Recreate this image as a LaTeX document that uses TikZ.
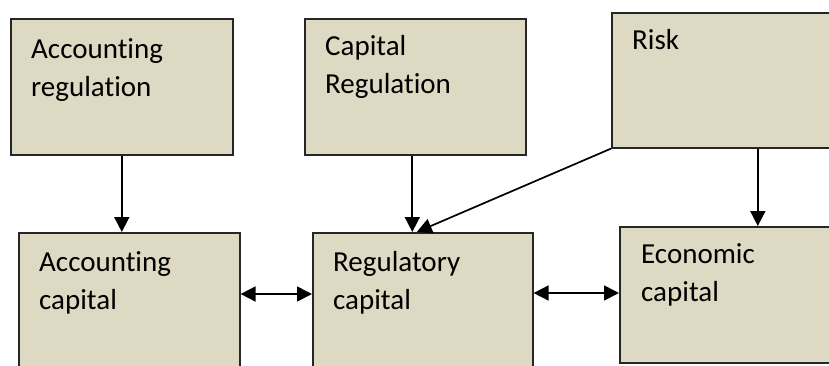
\documentclass[tikz,border=0pt]{standalone}
\usepackage{fontspec}
\setmainfont{Carlito}[Ligatures=NoCommon]
\usetikzlibrary{arrows.meta}
\definecolor{boxfill}{RGB}{221,217,195}
\begin{document}
\begin{tikzpicture}[
    x=1pt, y=-1pt,
    >={Triangle[length=15pt,width=15pt]},
    % Styles
    cap_box/.style={rectangle, draw=black!85, line width=1.6pt, fill=boxfill, anchor=north west, inner sep=0pt},
    box_text/.style={anchor=north west, inner sep=0pt, align=left, font=\fontsize{29}{38}\selectfont},
    link/.style={->, line width=1.7pt, black},
    both_link/.style={<->, line width=1.7pt, black}
]
    \useasboundingbox (0,0) rectangle (829,365);
    \clip (0,0) rectangle (829,365);

    % ==========================================
    % 1. TOP ROW: DRIVERS
    % ==========================================
    \node[cap_box, minimum width=222pt, minimum height=136pt] (acc_reg) at (10,18) {};
    \node[cap_box, minimum width=221pt, minimum height=136pt] (cap_reg) at (304,18) {};
    \node[cap_box, minimum width=292pt, minimum height=135pt] (risk) at (611,12) {};

    % ==========================================
    % 2. BOTTOM ROW: CAPITAL MEASURES
    % ==========================================
    \node[cap_box, minimum width=221pt, minimum height=150pt] (acc_cap) at (18,232) {};
    \node[cap_box, minimum width=220pt, minimum height=150pt] (reg_cap) at (312,232) {};
    \node[cap_box, minimum width=260pt, minimum height=136pt] (eco_cap) at (619,226) {};

    % ==========================================
    % 3. BOX LABELS
    % ==========================================
    \node[box_text] (acc_reg_txt) at ([xshift=21pt,yshift=-14pt]acc_reg.north west) {\strut Accounting\\regulation};
    \node[box_text] (cap_reg_txt) at ([xshift=21pt,yshift=-11pt]cap_reg.north west) {\strut Capital\\Regulation};
    \node[box_text] (risk_txt) at ([xshift=21pt,yshift=-11pt]risk.north west) {\strut Risk};
    \node[box_text] (acc_cap_txt) at ([xshift=21pt,yshift=-12.5pt]acc_cap.north west) {\strut Accounting\\capital};
    \node[box_text] (reg_cap_txt) at ([xshift=21pt,yshift=-12.5pt]reg_cap.north west) {\strut Regulatory\\capital};
    \node[box_text] (eco_cap_txt) at ([xshift=22pt,yshift=-10.5pt]eco_cap.north west) {\strut Economic\\capital};

    % ==========================================
    % 4. CONNECTORS
    % ==========================================
    \draw[link] (acc_reg.south) -- (acc_reg.south |- acc_cap.north);
    \draw[link] ([xshift=-3pt]cap_reg.south) -- ([xshift=-10.5pt]reg_cap.north);
    \draw[link] (risk.south west) -- ([xshift=-6pt]reg_cap.north);
    \draw[link] (risk.south) -- (risk.south |- eco_cap.north);

    % Two-way links between the capital measures
    \draw[both_link] ([yshift=-62pt]acc_cap.north east) -- ([yshift=-62pt]reg_cap.north west);
    \draw[both_link] ([yshift=-61pt]reg_cap.north east) -- ([yshift=-67pt]eco_cap.north west);

\end{tikzpicture}
\end{document}
